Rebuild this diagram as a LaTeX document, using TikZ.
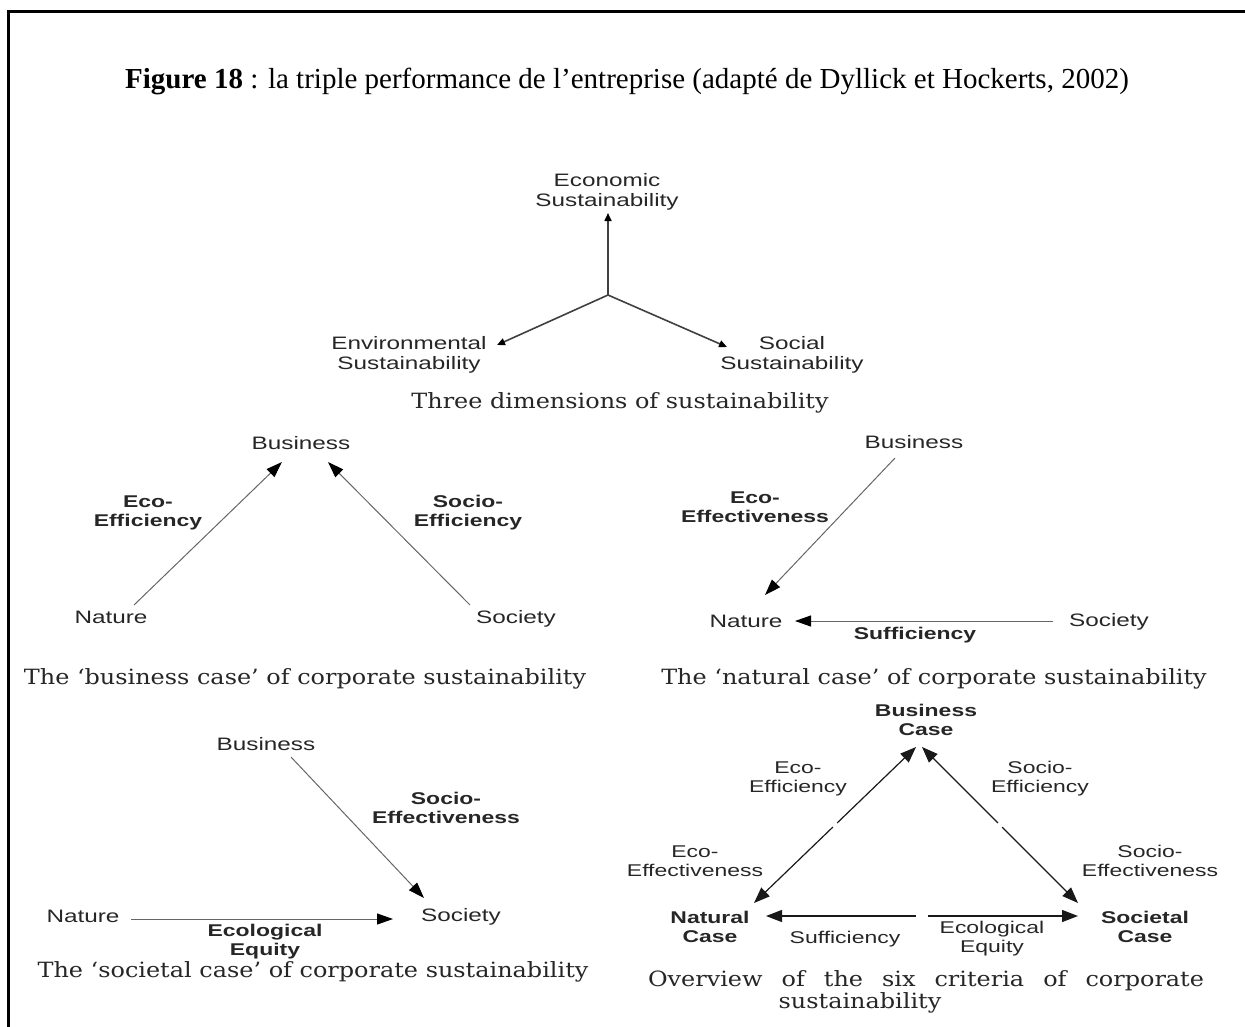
\documentclass[tikz,border=0pt]{standalone}
\usepackage{fontspec}
\setmainfont{Liberation Serif}
\newfontfamily\diagfont[FakeStretch=1.35]{Liberation Sans}
\newfontfamily\captfont[FakeStretch=1.14]{DejaVu Serif}
\usetikzlibrary{arrows.meta,calc}

\tikzset{
  lbl/.style={font=\diagfont\fontsize{17}{19}\selectfont, align=center, inner sep=1pt, text=black!85},
  biglbl/.style={lbl, font=\diagfont\fontsize{18}{20}\selectfont},
  blbl/.style={lbl, font=\diagfont\bfseries\fontsize{17}{19}\selectfont},
  capt/.style={font=\captfont\fontsize{21}{24}\selectfont, inner sep=0pt, text=black!85},
  arr/.style={-{Triangle[length=16pt,width=11pt,color=black]}, line width=1pt, black!60},
  arrblack/.style={-{Triangle[length=16pt,width=12pt]}, line width=1.2pt, black!90},
  arrsmall/.style={-{Triangle[length=8pt,width=7pt,color=black]}, line width=1.6pt, black!75}
}

\begin{document}
\begin{tikzpicture}[x=1pt,y=-1pt]
    \useasboundingbox (0,0) rectangle (1245,1026);
    \draw[line width=3pt] (1246,11) -- (8,11) -- (8,1027);

    \node[font=\fontsize{29}{32}\selectfont, inner sep=0pt] (title) at (627,81)
        {\textbf{Figure 18} : la triple performance de l’entreprise (adapté de Dyllick et Hockerts, 2002)};

    % three dimensions
    \node[biglbl] (eco) at (607,192) {Economic\\Sustainability};
    \node[biglbl] (env) at (409,355) {Environmental\\Sustainability};
    \node[biglbl] (soc) at (792,355) {Social\\Sustainability};
    \coordinate (ctr) at (608,295);
    \draw[arrsmall] (ctr) -- ([shift={(1,21)}]eco.center);
    \draw[arrsmall] (ctr) -- ([shift={(88,-10)}]env.center);
    \draw[arrsmall] (ctr) -- ([shift={(-65,-8)}]soc.center);
    \node[capt] (cap1) at (620,403) {Three dimensions of sustainability};

    % business case
    \node[biglbl] (bizA) at (301,443) {Business};
    \node[biglbl] (natA) at (111,617) {Nature};
    \node[biglbl] (socA) at (516,619) {Society};
    \node[blbl] (ecoeffA) at (148,513) {Eco-\\Efficiency};
    \node[blbl] (socioeffA) at (468,513) {Socio-\\Efficiency};
    \draw[arr] ([shift={(23,-12)}]natA.center) -- ([shift={(-19,19)}]bizA.center);
    \draw[arr] ([shift={(-46,-14)}]socA.center) -- ([shift={(27,19)}]bizA.center);
    \node[capt] (capA) at (305,679) {The ‘business case’ of corporate sustainability};

    % natural case
    \node[biglbl] (bizB) at (914,442) {Business};
    \node[biglbl] (natB) at (746,621) {Nature};
    \node[biglbl] (socB) at (1109,622) {Society};
    \node[blbl] (ecoeffB) at (755,507) {Eco-\\Effectiveness};
    \node[blbl] (suffB) at (915,635) {Sufficiency};
    \draw[arr] ([shift={(-19,16)}]bizB.center) -- ([shift={(19,-26)}]natB.center);
    \draw[arr] ([shift={(-56,-1)}]socB.center) -- ([shift={(49,0)}]natB.center);
    \node[capt] (capB) at (934,679) {The ‘natural case’ of corporate sustainability};

    % societal case
    \node[biglbl] (bizC) at (266,744) {Business};
    \node[biglbl] (natC) at (83,916) {Nature};
    \node[biglbl] (socC) at (461,917) {Society};
    \node[blbl] (soceffC) at (446,808) {Socio-\\Effectiveness};
    \node[blbl] (equC) at (265,942) {Ecological\\Equity};
    \draw[arr] ([shift={(25,13)}]bizC.center) -- ([shift={(-37,-19)}]socC.center);
    \draw[arr] ([shift={(48,3)}]natC.center) -- ([shift={(-68,2)}]socC.center);
    \node[capt] (capC) at (313,972) {The ‘societal case’ of corporate sustainability};

    % overview
    \node[blbl] (bizD) at (926,720) {Business\\Case};
    \node[blbl] (natD) at (710,927) {Natural\\Case};
    \node[blbl] (socD) at (1145,927) {Societal\\Case};
    \node[lbl] (eeffD) at (798,779) {Eco-\\Efficiency};
    \node[lbl] (seffD) at (1040,779) {Socio-\\Efficiency};
    \node[lbl] (eectD) at (695,861) {Eco-\\Effectiveness};
    \node[lbl] (sectD) at (1150,861) {Socio-\\Effectiveness};
    \node[lbl] (suffD) at (845,939) {Sufficiency};
    \node[lbl] (equD) at (992,939) {Ecological\\Equity};
    \coordinate (dBN) at ([shift={(-10,27)}]bizD.center);
    \coordinate (dBS) at ([shift={(-4,27)}]bizD.center);
    \coordinate (dNB) at ([shift={(44,-24)}]natD.center);
    \coordinate (dSB) at ([shift={(-67,-24)}]socD.center);
    \coordinate (dNS) at ([shift={(56,-11)}]natD.center);
    \coordinate (dSN) at ([shift={(-67,-11)}]socD.center);
    \draw[arrblack, shorten <=3pt] ($(dNB)!0.5!(dBN)$) -- (dBN);
    \draw[arrblack, shorten <=3pt] ($(dNB)!0.5!(dBN)$) -- (dNB);
    \draw[arrblack, shorten <=3pt] ($(dSB)!0.5!(dBS)$) -- (dBS);
    \draw[arrblack, shorten <=3pt] ($(dSB)!0.5!(dBS)$) -- (dSB);
    \draw[arrblack, shorten <=6pt] ($(dNS)!0.5!(dSN)$) -- (dNS);
    \draw[arrblack, shorten <=6pt] ($(dNS)!0.5!(dSN)$) -- (dSN);
    \node[capt] (capD1) at (926,981) {\makebox[556pt][s]{Overview of the six criteria of corporate}};
    \node[capt] (capD2) at (860,1003) {sustainability};
\end{tikzpicture}
\end{document}
